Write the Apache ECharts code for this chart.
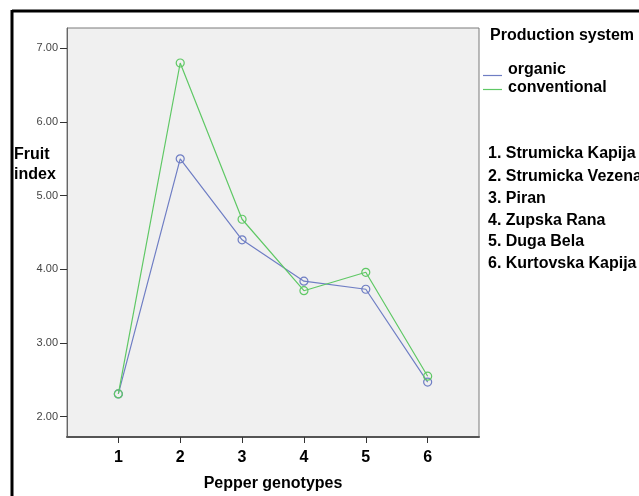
<!DOCTYPE html>
<html>
<head>
<meta charset="utf-8">
<script src="https://cdn.jsdelivr.net/npm/echarts@6/dist/echarts.min.js"></script>
<style>
html,body{margin:0;padding:0;background:#fff;}
#chart{width:639px;height:496px;}
</style>
</head>
<body>
<div id="chart"></div>
<script>
const genotypes = [1, 2, 3, 4, 5, 6];
const organic = [2.31, 5.50, 4.40, 3.84, 3.73, 2.47];
const conventional = [2.31, 6.80, 4.68, 3.71, 3.96, 2.55];
const yTicks = [2, 3, 4, 5, 6, 7];
const genotypeNames = ['1. Strumicka Kapija', '2. Strumicka Vezena', '3. Piran', '4. Zupska Rana', '5. Duga Bela', '6. Kurtovska Kapija'];
const seriesNames = ['organic', 'conventional'];
const colors = ['#6f7ec4', '#5fc865'];

const chart = echarts.init(document.getElementById('chart'));
const bold = 'bold 16px Arial, "Liberation Sans", sans-serif';
const graphics = [
  {type: 'line', shape: {x1: 12, y1: 11, x2: 639, y2: 11}, style: {stroke: '#000', lineWidth: 3}},
  {type: 'line', shape: {x1: 12, y1: 10, x2: 12, y2: 496}, style: {stroke: '#000', lineWidth: 3}},
  {type: 'text', left: 14, top: 145, style: {text: 'Fruit\nindex', font: bold, fill: '#000', lineHeight: 20}},
  {type: 'text', left: 490, top: 28, style: {text: 'Production system', font: bold, fill: '#000'}},
  {type: 'line', shape: {x1: 483, y1: 75.5, x2: 502, y2: 75.5}, style: {stroke: colors[0], lineWidth: 1.2}},
  {type: 'line', shape: {x1: 483, y1: 89.5, x2: 502, y2: 89.5}, style: {stroke: colors[1], lineWidth: 1.2}},
  {type: 'text', left: 508, top: 62, style: {text: seriesNames[0], font: bold, fill: '#000'}},
  {type: 'text', left: 508, top: 80, style: {text: seriesNames[1], font: bold, fill: '#000'}}
];
const listY = [155, 178, 200, 222, 243, 265];
genotypeNames.forEach((n, i) => {
  graphics.push({type: 'text', left: 488, top: listY[i] - 9, style: {text: n, font: bold, fill: '#000'}});
});

chart.setOption({
  animation: false,
  backgroundColor: '#fff',
  grid: {left: 67, top: 28, right: 160, bottom: 59, outerBoundsMode: 'none', containLabel: false,
         show: true, backgroundColor: '#f0f0f0', borderColor: '#7a7a7a', borderWidth: 1},
  xAxis: {
    type: 'value', min: 0.17, max: 6.83,
    name: 'Pepper genotypes', nameLocation: 'middle', nameGap: 39,
    nameTextStyle: {fontFamily: 'Arial', fontWeight: 'bold', fontSize: 16, color: '#000'},
    axisLine: {show: true, onZero: false, lineStyle: {color: '#555', width: 2}},
    axisTick: {show: true, length: 6, customValues: genotypes, lineStyle: {color: '#333'}},
    axisLabel: {customValues: genotypes, margin: 13, fontFamily: 'Arial', fontWeight: 'bold', fontSize: 16, color: '#000'},
    splitLine: {show: false}
  },
  yAxis: {
    type: 'value', min: 1.725, max: 7.275,
    axisLine: {show: true, onZero: false, lineStyle: {color: '#666', width: 1}},
    axisTick: {show: true, length: 7, customValues: yTicks, lineStyle: {color: '#333'}},
    axisLabel: {customValues: yTicks, margin: 9, fontFamily: 'Arial', fontSize: 11, color: '#444', formatter: v => v.toFixed(2)},
    splitLine: {show: false}
  },
  series: [
    {name: seriesNames[0], type: 'line', data: genotypes.map((g, i) => [g, organic[i]]), symbol: 'circle', symbolSize: 8,
     lineStyle: {color: colors[0], width: 1.2}, itemStyle: {color: 'rgba(0,0,0,0)', borderColor: colors[0], borderWidth: 1.2}},
    {name: seriesNames[1], type: 'line', data: genotypes.map((g, i) => [g, conventional[i]]), symbol: 'circle', symbolSize: 8,
     lineStyle: {color: colors[1], width: 1.2}, itemStyle: {color: 'rgba(0,0,0,0)', borderColor: colors[1], borderWidth: 1.2}}
  ],
  graphic: graphics
});
</script>
</body>
</html>
